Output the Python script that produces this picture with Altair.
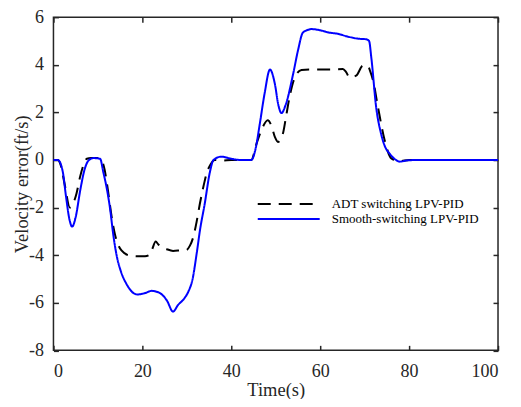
import altair as alt
import pandas as pd

series = ["ADT switching LPV-PID", "Smooth-switching LPV-PID"]

t_adt = [0, 1.0, 1.6, 2.5, 3.7, 4.5, 5.2, 6.0, 7.0, 7.5, 8.5, 10.0, 10.8, 11.5, 12.2, 13.1, 13.8, 15.3,
         17.2, 19.0, 20.6, 21.5, 22.1, 23.0, 23.6, 24.3, 25.5, 26.9, 28.5, 29.9, 30.7, 31.4, 32.2, 32.9,
         34.0, 34.4, 35.3, 36.3, 38.0, 40.0, 44.5, 45.7, 47.0, 48.2, 49.0, 49.8, 50.5, 51.6, 52.3, 53.1,
         54.3, 55.8, 58.3, 62.0, 65.1, 65.8, 66.6, 68.1, 69.6, 70.7, 71.3, 71.9, 73.0, 74.5, 76.0, 77.9,
         80.0, 100.0]
v_adt = [0, 0, -0.2, -1.0, -2.0, -1.8, -1.4, -0.7, -0.1, 0.05, 0.08, 0.08, 0.0, -0.4, -1.2, -2.4, -3.1,
         -3.8, -4.02, -4.05, -4.05, -4.0, -3.8, -3.43, -3.55, -3.65, -3.75, -3.82, -3.8, -3.78, -3.6,
         -3.27, -2.6, -1.87, -0.9, -0.6, -0.2, 0.0, -0.02, 0.0, 0.0, 0.7, 1.35, 1.67, 1.45, 0.97, 0.76,
         1.1, 1.8, 2.64, 3.47, 3.78, 3.8, 3.8, 3.82, 3.7, 3.47, 3.54, 3.96, 3.96, 3.7, 3.33, 2.22, 0.83,
         0.07, -0.05, 0.0, 0.0]

t_smooth = [0, 1.0, 2.1, 2.8, 3.6, 4.2, 5.0, 6.0, 7.0, 8.0, 9.0, 10.5, 11.2, 12.0, 12.7, 13.5, 14.2,
            15.2, 16.4, 18.8, 20.5, 22.1, 24.0, 25.5, 26.9, 28.0, 29.5, 30.3, 31.3, 32.2, 33.0, 34.0,
            35.2, 36.0, 37.8, 40.0, 42.0, 44.5, 45.5, 46.4, 47.5, 48.7, 49.8, 50.6, 51.3, 52.2, 53.9,
            55.0, 56.1, 57.0, 58.0, 60.0, 62.1, 64.0, 65.9, 68.4, 70.4, 71.0, 71.5, 72.6, 73.7, 74.5,
            75.6, 76.7, 77.9, 79.5, 82.0, 100.0]
v_smooth = [0, 0, -0.5, -1.5, -2.5, -2.8, -2.4, -1.3, -0.4, 0.0, 0.08, 0.05, -0.5, -1.2, -2.0, -3.2,
            -4.0, -4.7, -5.2, -5.65, -5.6, -5.5, -5.6, -5.9, -6.37, -6.1, -5.8, -5.55, -5.0, -3.95,
            -2.9, -1.87, -0.5, 0.0, 0.14, 0.05, 0.0, 0.0, 0.5, 1.5, 2.8, 3.8, 3.2, 2.3, 1.97, 2.3, 3.6,
            4.6, 5.35, 5.45, 5.5, 5.45, 5.35, 5.3, 5.2, 5.1, 5.07, 5.0, 4.3, 2.2, 1.1, 0.6, 0.27, 0.05,
            -0.07, -0.02, 0.0, 0.0]

x_ticks = [0, 20, 40, 60, 80, 100]
y_ticks = [-8, -6, -4, -2, 0, 2, 4, 6]

df = pd.concat([
    pd.DataFrame({"t": t_adt, "v": v_adt, "series": series[0]}),
    pd.DataFrame({"t": t_smooth, "v": v_smooth, "series": series[1]}),
], ignore_index=True)

FONT = "Liberation Serif"
AX = "#262626"
xs = alt.Scale(domain=[0, 100], nice=False)
ys = alt.Scale(domain=[-8, 6], nice=False)

legend = alt.Legend(title=None, orient="none", legendX=227.5, legendY=179,
                    symbolType="M-4.43,0H4.43", symbolSize=196, symbolStrokeWidth=2,
                    labelFont=FONT, labelFontSize=13, labelColor="#000000",
                    rowPadding=0, labelOffset=35, padding=0)

lines = alt.Chart(df).mark_line(strokeWidth=2, interpolate="monotone").encode(
    x=alt.X("t:Q", scale=xs, axis=alt.Axis(values=x_ticks, title="Time(s)", ticks=False, domain=False,
                                           grid=False, labelFontSize=18, titleFontSize=18.5,
                                           labelPadding=12, titlePadding=0, labelColor=AX,
                                           titleColor=AX, titleFontWeight="normal",
                                           labelFont=FONT, titleFont=FONT,
                                           labelExpr="'' + datum.value")),
    y=alt.Y("v:Q", scale=ys, axis=alt.Axis(values=y_ticks, title="Velocity error(ft/s)", ticks=False,
                                           domain=False, grid=False, labelFontSize=18, titleFontSize=18.5,
                                           labelPadding=10, titlePadding=-3, labelColor=AX,
                                           titleColor=AX, titleFontWeight="normal",
                                           labelFont=FONT, titleFont=FONT,
                                           labelExpr="'' + datum.value")),
    color=alt.Color("series:N", scale=alt.Scale(domain=series, range=["#000000", "#0000ff"]),
                    legend=legend),
    strokeDash=alt.StrokeDash("series:N", scale=alt.Scale(domain=series, range=[[13, 8], [1, 0]]),
                              legend=legend),
)


def tick_layer(xorient, yorient):
    return alt.Chart(df).mark_point(opacity=0).encode(
        x=alt.X("t:Q", scale=xs, axis=alt.Axis(orient=xorient, values=x_ticks, labels=False, domain=False,
                                               grid=False, ticks=True, tickSize=5, offset=-5, title=None,
                                               tickColor=AX, tickWidth=1.5)),
        y=alt.Y("v:Q", scale=ys, axis=alt.Axis(orient=yorient, values=y_ticks, labels=False, domain=False,
                                               grid=False, ticks=True, tickSize=5, offset=-5, title=None,
                                               tickColor=AX, tickWidth=1.5)),
    )


chart = alt.layer(lines, tick_layer("bottom", "left"), tick_layer("top", "right")).resolve_axis(
    x="independent", y="independent"
).properties(
    width=445, height=333.5,
    autosize=alt.AutoSizeParams(type="none"),
    padding={"left": 45.5, "top": 9, "right": 15, "bottom": 48},
).configure_view(
    stroke=AX, strokeWidth=1.5
).configure_axis(
    labelFont=FONT, titleFont=FONT, titleFontWeight="normal"
).configure_legend(
    labelFont=FONT
)

chart.save("out.html", embed_options={"renderer": "svg", "actions": False})
